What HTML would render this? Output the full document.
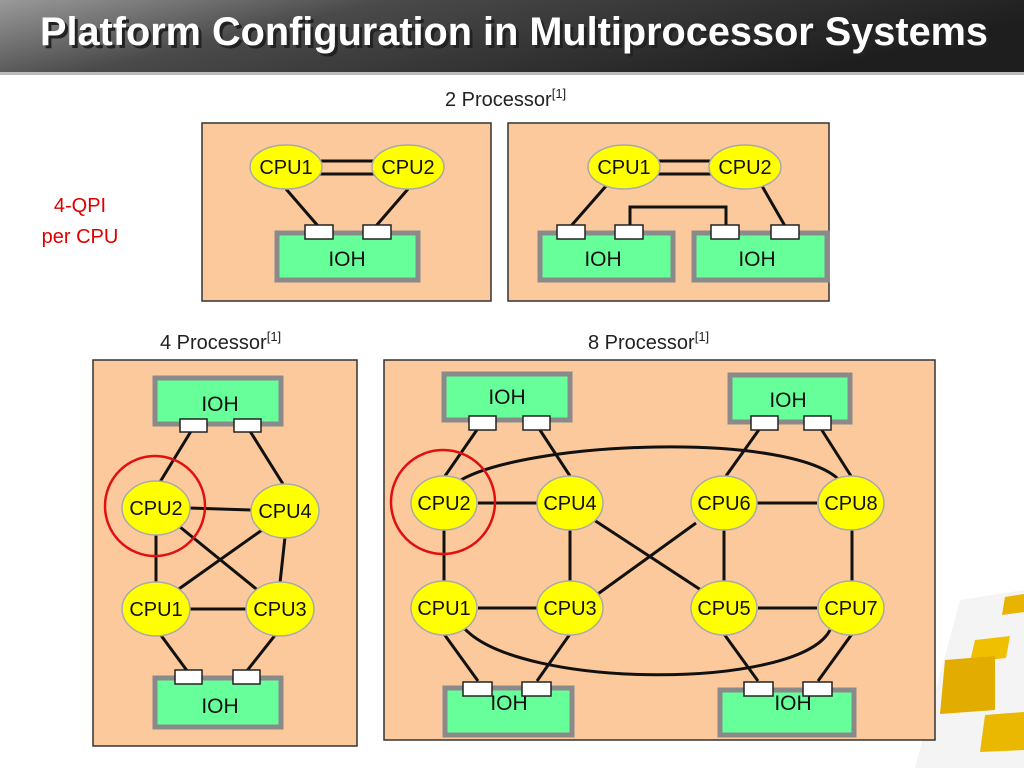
<!DOCTYPE html>
<html><head><meta charset="utf-8"><style>
html,body{margin:0;padding:0;background:#fff;}
svg{display:block;font-family:"Liberation Sans",Arial,sans-serif;}
</style></head><body>
<svg width="1024" height="768" viewBox="0 0 1024 768" xmlns="http://www.w3.org/2000/svg">
<defs>
<linearGradient id="tb" x1="0" y1="0" x2="1" y2="0.3">
<stop offset="0" stop-color="#9a9a9a"/><stop offset="0.35" stop-color="#4a4a4a"/><stop offset="1" stop-color="#1e1e1e"/>
</linearGradient>
</defs>
<rect x="0" y="0" width="1024" height="72" fill="url(#tb)"/>
<rect x="0" y="72" width="1024" height="3" fill="#bbb"/>
<text x="43" y="48" font-family="'Liberation Sans Narrow','Liberation Sans',sans-serif" font-size="40" font-weight="bold" fill="#222" textLength="948" lengthAdjust="spacingAndGlyphs">Platform Configuration in Multiprocessor Systems</text>
<text x="40" y="45" font-family="'Liberation Sans Narrow','Liberation Sans',sans-serif" font-size="40" font-weight="bold" fill="#fff" textLength="948" lengthAdjust="spacingAndGlyphs">Platform Configuration in Multiprocessor Systems</text>

<!-- decoration -->
<g>
<polygon points="960,600 1024,590 1024,768 915,768" fill="#f4f4f4"/>
<polygon points="1005,597 1024,594 1024,612 1002,615" fill="#e8b400"/>
<polygon points="975,640 1010,636 1006,658 970,662" fill="#f0c000"/>
<polygon points="945,660 995,656 995,710 940,714" fill="#e3ad00"/>
<polygon points="985,715 1024,712 1024,750 980,752" fill="#eab800"/>
</g>

<text x="445" y="106" font-size="20" fill="#222">2 Processor<tspan font-size="13" dy="-8">[1]</tspan></text>
<text x="160" y="349" font-size="20" fill="#222">4 Processor<tspan font-size="13" dy="-8">[1]</tspan></text>
<text x="588" y="349" font-size="20" fill="#222">8 Processor<tspan font-size="13" dy="-8">[1]</tspan></text>
<text x="80" y="212" font-size="20" fill="#e00000" text-anchor="middle">4-QPI</text>
<text x="80" y="243" font-size="20" fill="#e00000" text-anchor="middle">per CPU</text>

<g stroke="#333" stroke-width="1.5" fill="#fcc99c">
<rect x="202" y="123" width="289" height="178"/>
<rect x="508" y="123" width="321" height="178"/>
<rect x="93" y="360" width="264" height="386"/>
<rect x="384" y="360" width="551" height="380"/>
</g>

<g stroke="#111" stroke-width="3" fill="none">
<line x1="320" y1="161" x2="374" y2="161"/><line x1="320" y1="174" x2="374" y2="174"/>
<line x1="286" y1="189" x2="318" y2="226"/><line x1="408" y1="189" x2="376" y2="226"/>
<line x1="658" y1="161" x2="711" y2="161"/><line x1="658" y1="174" x2="711" y2="174"/>
<line x1="606" y1="186" x2="571" y2="226"/><line x1="762" y1="186" x2="785" y2="226"/>
<polyline points="630,226 630,207 726,207 726,226"/>
<line x1="193" y1="428" x2="160" y2="482"/><line x1="248" y1="428" x2="283" y2="484"/>
<line x1="189" y1="508" x2="251" y2="510"/>
<line x1="156" y1="535" x2="156" y2="583"/>
<line x1="285" y1="537" x2="280" y2="583"/>
<line x1="180" y1="527" x2="260" y2="592"/>
<line x1="262" y1="530" x2="176" y2="591"/>
<line x1="190" y1="609" x2="246" y2="609"/>
<line x1="160" y1="634" x2="188" y2="672"/><line x1="276" y1="634" x2="246" y2="672"/>
<line x1="481" y1="424" x2="445" y2="476"/><line x1="536" y1="424" x2="570" y2="476"/>
<line x1="763" y1="424" x2="726" y2="476"/><line x1="818" y1="424" x2="851" y2="476"/>
<path d="M456,483 C520,440 800,430 842,483"/>
<path d="M464,628 C520,690 800,690 830,630"/>
<line x1="478" y1="503" x2="537" y2="503"/><line x1="756" y1="503" x2="817" y2="503"/>
<line x1="478" y1="608" x2="537" y2="608"/><line x1="758" y1="608" x2="817" y2="608"/>
<line x1="444" y1="530" x2="444" y2="582"/><line x1="570" y1="530" x2="570" y2="582"/>
<line x1="724" y1="530" x2="724" y2="582"/><line x1="852" y1="530" x2="852" y2="582"/>
<line x1="594" y1="520" x2="704" y2="592"/><line x1="595" y1="596" x2="696" y2="523"/>
<line x1="444" y1="634" x2="478" y2="681"/><line x1="570" y1="634" x2="537" y2="681"/>
<line x1="724" y1="634" x2="758" y2="681"/><line x1="852" y1="634" x2="818" y2="681"/>
</g>

<g fill="#66ff99" stroke="#8a8a8a" stroke-width="5">
<rect x="277" y="233" width="141" height="47"/>
<rect x="540" y="233" width="133" height="47"/>
<rect x="694" y="233" width="133" height="47"/>
<rect x="155" y="378" width="126" height="46"/>
<rect x="155" y="678" width="126" height="49"/>
<rect x="444" y="374" width="126" height="46"/>
<rect x="730" y="375" width="120" height="47"/>
<rect x="445" y="688" width="127" height="47"/>
<rect x="720" y="690" width="134" height="45"/>
</g>
<g font-size="21" fill="#111" text-anchor="middle">
<text x="347" y="266">IOH</text><text x="603" y="266">IOH</text><text x="757" y="266">IOH</text>
<text x="220" y="411">IOH</text><text x="220" y="713">IOH</text>
<text x="507" y="404">IOH</text><text x="788" y="407">IOH</text>
<text x="509" y="710">IOH</text><text x="793" y="710">IOH</text>
</g>
<g fill="#fff" stroke="#222" stroke-width="1.5">
<rect x="305" y="225" width="28" height="14"/><rect x="363" y="225" width="28" height="14"/>
<rect x="557" y="225" width="28" height="14"/><rect x="615" y="225" width="28" height="14"/>
<rect x="711" y="225" width="28" height="14"/><rect x="771" y="225" width="28" height="14"/>
<rect x="180" y="419" width="27" height="13"/><rect x="234" y="419" width="27" height="13"/>
<rect x="175" y="670" width="27" height="14"/><rect x="233" y="670" width="27" height="14"/>
<rect x="469" y="416" width="27" height="14"/><rect x="523" y="416" width="27" height="14"/>
<rect x="751" y="416" width="27" height="14"/><rect x="804" y="416" width="27" height="14"/>
<rect x="463" y="682" width="29" height="14"/><rect x="522" y="682" width="29" height="14"/>
<rect x="744" y="682" width="29" height="14"/><rect x="803" y="682" width="29" height="14"/>
</g>
<g fill="#ffff00" stroke="#aaa" stroke-width="1.5">
<ellipse cx="286" cy="167" rx="36" ry="22"/><ellipse cx="408" cy="167" rx="36" ry="22"/>
<ellipse cx="624" cy="167" rx="36" ry="22"/><ellipse cx="745" cy="167" rx="36" ry="22"/>
<ellipse cx="156" cy="508" rx="34" ry="27"/><ellipse cx="285" cy="511" rx="34" ry="27"/>
<ellipse cx="156" cy="609" rx="34" ry="27"/><ellipse cx="280" cy="609" rx="34" ry="27"/>
<ellipse cx="444" cy="503" rx="33" ry="27"/><ellipse cx="570" cy="503" rx="33" ry="27"/>
<ellipse cx="724" cy="503" rx="33" ry="27"/><ellipse cx="851" cy="503" rx="33" ry="27"/>
<ellipse cx="444" cy="608" rx="33" ry="27"/><ellipse cx="570" cy="608" rx="33" ry="27"/>
<ellipse cx="724" cy="608" rx="33" ry="27"/><ellipse cx="851" cy="608" rx="33" ry="27"/>
</g>
<g font-size="20" fill="#111" text-anchor="middle">
<text x="286" y="174">CPU1</text><text x="408" y="174">CPU2</text>
<text x="624" y="174">CPU1</text><text x="745" y="174">CPU2</text>
<text x="156" y="515">CPU2</text><text x="285" y="518">CPU4</text>
<text x="156" y="616">CPU1</text><text x="280" y="616">CPU3</text>
<text x="444" y="510">CPU2</text><text x="570" y="510">CPU4</text>
<text x="724" y="510">CPU6</text><text x="851" y="510">CPU8</text>
<text x="444" y="615">CPU1</text><text x="570" y="615">CPU3</text>
<text x="724" y="615">CPU5</text><text x="851" y="615">CPU7</text>
</g>
<g fill="none" stroke="#e01010" stroke-width="2.5">
<circle cx="155" cy="506" r="50"/>
<circle cx="443" cy="502" r="52"/>
</g>
</svg>
</body></html>
